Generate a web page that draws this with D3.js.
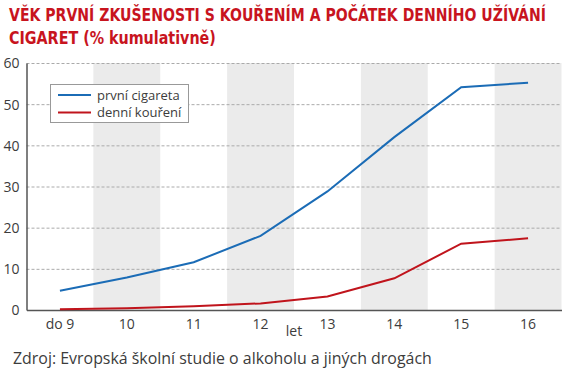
<!DOCTYPE html>
<html>
<head>
<meta charset="utf-8">
<script src="https://cdn.jsdelivr.net/npm/d3@7"></script>
<style>
  html, body { margin: 0; padding: 0; background: #fff; }
  svg { display: block; }
  text { font-family: "Open Sans", "Noto Sans", sans-serif; fill: #3c3c3c; }
</style>
</head>
<body>
<svg id="chart" width="575" height="373"></svg>
<script>
/// Data
var categories = ["do 9", "10", "11", "12", "13", "14", "15", "16"];
var prvniCigareta = [4.7, 7.9, 11.6, 18.0, 28.8, 42.0, 54.1, 55.2];
var denniKoureni = [0.2, 0.4, 0.9, 1.6, 3.3, 7.7, 16.1, 17.4];
var yTicks = [0, 10, 20, 30, 40, 50, 60];
var seriesNames = ["první cigareta", "denní kouření"];
var titleLines = ["VĚK PRVNÍ ZKUŠENOSTI S KOUŘENÍM A POČÁTEK DENNÍHO UŽÍVÁNÍ", "CIGARET (% kumulativně)"];
var xTitle = "let";
var source = "Zdroj: Evropská školní studie o alkoholu a jiných drogách";

var colors = ["#1b6cb6", "#c0141c"];
var plot = {left: 26.5, right: 561.5, top: 63, bottom: 310};

var svg = d3.select("#chart");

var x = d3.scaleBand()
        .domain(categories)
        .range([plot.left, plot.right])
        .padding(0);
var y = d3.scaleLinear()
        .domain([0, 60])
        .range([plot.bottom, plot.top]);

/// Squeezes a text horizontally so it spans the given width.
function fitWidth(sel, x0, width) {
    sel.each(function() {
        var w = this.getComputedTextLength();
        var k = width / w;
        d3.select(this).attr("transform",
            "translate(" + x0 + ",0) scale(" + k + ",1) translate(" + (-x0) + ",0)");
    });
}

/// Title
svg.selectAll("text.title")
    .data(titleLines)
    .enter()
    .append("text")
    .attr("class", "title")
    .attr("x", 9)
    .attr("y", (d, i) => 21 + i * 23)
    .style("font-family", "'Liberation Sans Narrow', 'DejaVu Sans Condensed', sans-serif")
    .style("font-weight", "bold")
    .style("font-size", "17px")
    .style("fill", "#c8141e")
    .text(d => d)
    .each(function(d, i) { fitWidth(d3.select(this), 9, i == 0 ? 537 : 207); });

/// Shaded bands for every other year
svg.append("g")
    .selectAll("rect")
    .data(categories.filter((d, i) => i % 2 == 1))
    .enter()
    .append("rect")
    .attr("x", d => x(d))
    .attr("y", y(60))
    .attr("width", x.bandwidth())
    .attr("height", y(0) - y(60))
    .attr("fill", "#ebebeb");

/// Gridlines
var grid = svg.append("g")
    .attr("transform", "translate(" + plot.left + ",0)")
    .call(d3.axisRight(y).tickValues(yTicks.slice(1)).tickSize(plot.right - plot.left).tickFormat(""));
grid.select(".domain").remove();
grid.selectAll("line")
    .attr("stroke", "#aaa")
    .attr("stroke-dasharray", "3,2");

/// Y axis
var yAxis = svg.append("g")
    .attr("transform", "translate(" + plot.left + ",0)")
    .call(d3.axisLeft(y).tickValues(yTicks).tickSize(0).tickPadding(7));
yAxis.select(".domain").attr("stroke", "#555").attr("stroke-width", 1.5);
yAxis.selectAll("text")
    .style("font-size", "14px")
    .attr("dy", "0.35em");

/// X axis
var xAxis = svg.append("g")
    .attr("transform", "translate(0," + plot.bottom + ")")
    .call(d3.axisBottom(x).tickSize(0).tickPadding(9).tickSizeOuter(0));
xAxis.select(".domain").attr("stroke", "#555").attr("stroke-width", 1.5);
xAxis.selectAll("text")
    .style("font-size", "14px");

svg.append("text")
    .attr("x", 294)
    .attr("y", 336)
    .attr("text-anchor", "middle")
    .style("font-size", "14px")
    .text(xTitle);

/// Lines
var line = d3.line()
    .x((d, i) => x(categories[i]) + x.bandwidth() / 2)
    .y(d => y(d));

svg.selectAll("path.series")
    .data([prvniCigareta, denniKoureni])
    .enter()
    .append("path")
    .attr("class", "series")
    .attr("d", line)
    .attr("fill", "none")
    .attr("stroke", (d, i) => colors[i])
    .attr("stroke-width", 2);

/// Legend
var legend = svg.append("g");
legend.append("rect")
    .attr("x", 50.5)
    .attr("y", 84.5)
    .attr("width", 138)
    .attr("height", 38)
    .attr("fill", "#fff")
    .attr("stroke", "#999");

var items = legend.selectAll("g.item")
    .data(seriesNames)
    .enter()
    .append("g")
    .attr("class", "item")
    .attr("transform", (d, i) => "translate(0," + (95 + i * 17.5) + ")");
items.append("line")
    .attr("x1", 58)
    .attr("x2", 91)
    .attr("stroke", (d, i) => colors[i])
    .attr("stroke-width", 2);
items.append("text")
    .attr("x", 97)
    .attr("dy", "0.35em")
    .style("font-size", "13px")
    .text(d => d);

/// Source
svg.append("text")
    .attr("x", 13)
    .attr("y", 364)
    .style("font-size", "16px")
    .text(source)
    .call(fitWidth, 13, 419);
</script>
</body>
</html>
